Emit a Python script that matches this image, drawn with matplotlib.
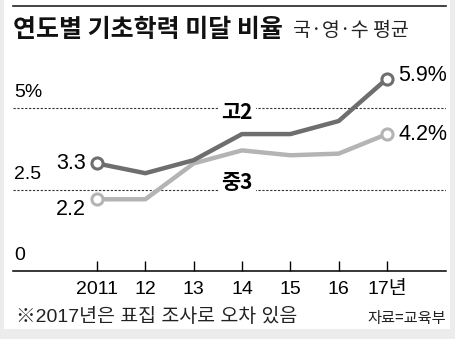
import matplotlib

matplotlib.use("Agg")
import matplotlib.pyplot as plt
from matplotlib.patches import Rectangle
from matplotlib.lines import Line2D

# data
years = [2011, 2012, 2013, 2014, 2015, 2016, 2017]
year_labels = ["2011", "12", "13", "14", "15", "16", "17년"]
high2 = [3.3, 3.0, 3.4, 4.2, 4.2, 4.6, 5.9]   # 고2
mid3 = [2.2, 2.2, 3.3, 3.7, 3.55, 3.6, 4.2]   # 중3
grid_vals = [2.5, 5]
ytick_vals = [0, 2.5, 5]
ytick_labels = ["0", "2.5", "5%"]

KR = ["Noto Sans CJK KR", "DejaVu Sans"]
NUM = ["Liberation Sans", "Noto Sans CJK KR", "DejaVu Sans"]
plt.rcParams["font.family"] = KR

W, H = 456, 339
fig = plt.figure(figsize=(W / 100, H / 100), dpi=100, facecolor="#ececec")
fig.patches.append(Rectangle((4 / W, 10 / H), 446 / W, 1 - 10 / H,
                             transform=fig.transFigure, facecolor="white", edgecolor="none", zorder=-5))
fig.lines.append(Line2D([13 / W, 446 / W], [1 - 6 / H, 1 - 6 / H], transform=fig.transFigure,
                        color="#222222", linewidth=1.2))

# axes placed so that 0 -> y=271px, 5 -> y=108px, 2011 -> x=97px, 2017 -> x=387px
px_x = (387 - 97) / 6
px_y = (271 - 108) / 5
x0, x1 = 13, 446
ytop = 6.6
ax = fig.add_axes([x0 / W, 1 - 271 / H, (x1 - x0) / W, ytop * px_y / H])
ax.set_zorder(2)
ax.patch.set_alpha(0)
for side in ["top", "left", "right"]:
    ax.spines[side].set_visible(False)
ax.spines["bottom"].set_linewidth(1.1)

for g in grid_vals:
    ax.axhline(g, color="#333333", linewidth=0.8, linestyle=(0, (2, 1.5)), zorder=1)

ax.plot(years, high2, color="#6e6e6e", linewidth=3.2, solid_capstyle="round", zorder=3)
ax.plot(years, mid3, color="#b4b4b4", linewidth=3.2, solid_capstyle="round", zorder=2)
for series, col in [(high2, "#6e6e6e"), (mid3, "#b4b4b4")]:
    ax.plot([years[0], years[-1]], [series[0], series[-1]], linestyle="none", marker="o",
            markersize=8, markerfacecolor="white", markeredgecolor=col, markeredgewidth=2.2, zorder=4)

xmin = 2011 - (97 - x0) / px_x
ax.set_xlim(xmin, 2017 + (x1 - 387) / px_x)
ax.set_ylim(0, ytop)
ax.set_yticks([])
ax.set_xticks(years)
ax.set_xticklabels(year_labels, family=NUM, fontsize=14)
ax.tick_params(axis="x", direction="in", length=7.5, width=1, pad=7)

for v, lab in zip(ytick_vals, ytick_labels):
    ax.annotate(lab, (xmin, v), xytext=(1, 5), textcoords="offset points",
                ha="left", va="bottom", family=NUM, fontsize=14)

ax.annotate("3.3", (years[0], high2[0]), xytext=(-8, 0), textcoords="offset points",
            ha="right", va="center", family=NUM, fontsize=15.5)
ax.annotate("2.2", (years[0], mid3[0]), xytext=(-8, -7), textcoords="offset points",
            ha="right", va="center", family=NUM, fontsize=15.5)
ax.annotate("5.9%", (years[-1], high2[-1]), xytext=(8, 2), textcoords="offset points",
            ha="left", va="center", family=NUM, fontsize=15.5)
ax.annotate("4.2%", (years[-1], mid3[-1]), xytext=(8, 0), textcoords="offset points",
            ha="left", va="center", family=NUM, fontsize=15.5)

box = dict(facecolor="white", edgecolor="none", pad=2)
ax.text(2013.9, 4.85, "고2", ha="center", va="center", fontsize=15, fontweight="bold", bbox=box, zorder=5)
ax.text(2013.9, 2.7, "중3", ha="center", va="center", fontsize=15, fontweight="bold", bbox=box, zorder=5)

fig.text(13 / W, 1 - 30 / H, "연도별 기초학력 미달 비율", ha="left", va="center",
         fontsize=18, fontweight="bold", color="#111111")
fig.text(293 / W, 1 - 31 / H, "국·영·수 평균", ha="left", va="center", fontsize=14, color="#222222")

fig.text(16 / W, 1 - 317 / H, "※2017년은 표집 조사로 오차 있음", ha="left", va="center",
         family=NUM, fontsize=14, color="#222222")
fig.text(446 / W, 1 - 318 / H, "자료=교육부", ha="right", va="center", fontsize=11, color="#222222")

fig.savefig("out.png", dpi=100, facecolor=fig.get_facecolor())
